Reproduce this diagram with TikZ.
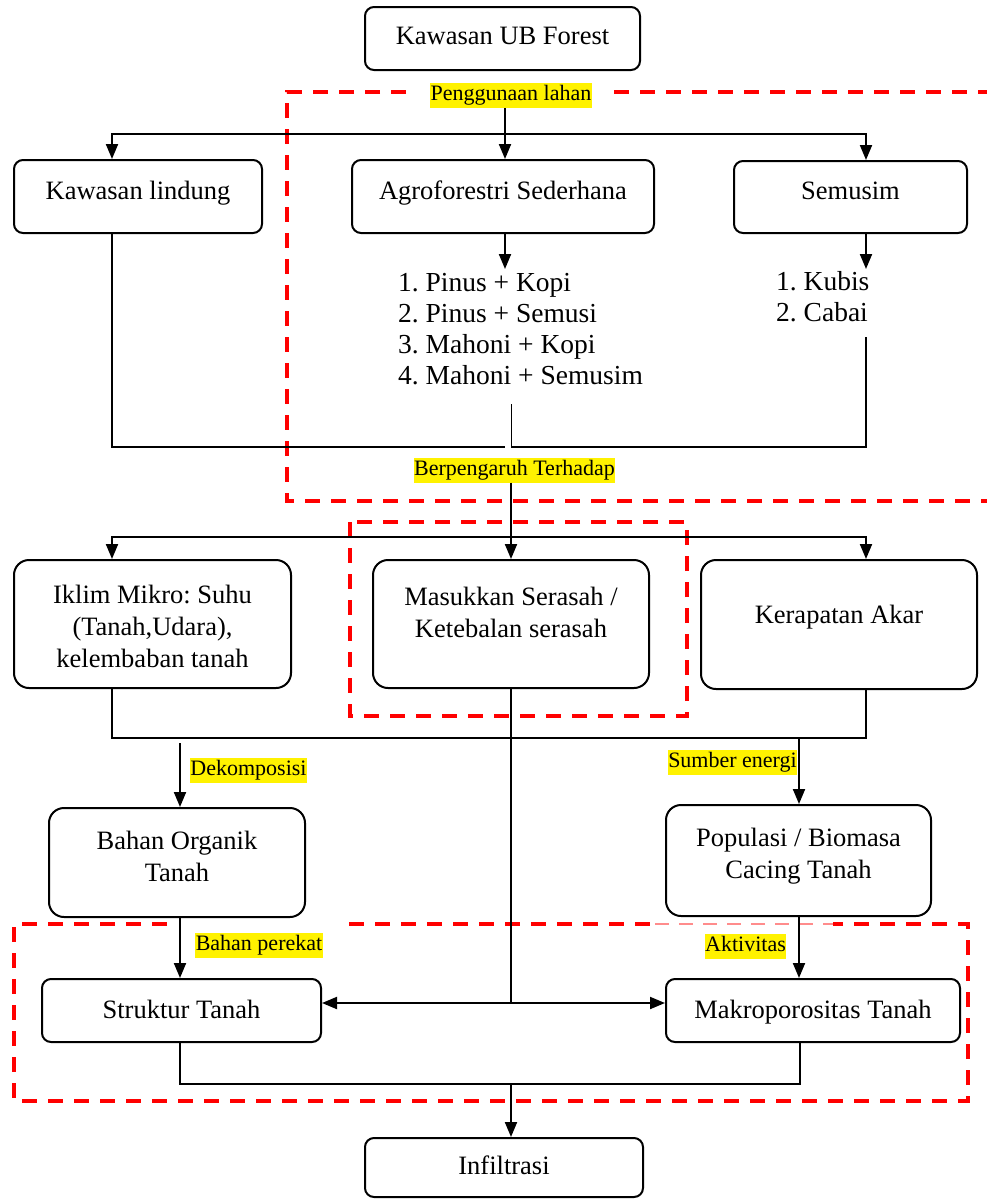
\documentclass[tikz,border=0pt]{standalone}
\usepackage{fontspec}
\setmainfont{Liberation Serif}
\usetikzlibrary{arrows.meta}
\newcommand\boxfont{\fontsize{26.5}{32}\selectfont\frenchspacing}
\newcommand\listfont{\fontsize{27.5}{31}\selectfont\frenchspacing}
\newcommand\labfont{\fontsize{22}{25}\selectfont\frenchspacing}
\begin{document}
\begin{tikzpicture}[x=1pt,y=-1pt,
  box/.style={draw, line width=2pt, rounded corners=9pt, inner sep=0pt},
  bigbox/.style={box, rounded corners=15pt},
  txt/.style={align=center, inner sep=0pt, font=\boxfont},
  lst/.style={align=left, inner sep=0pt, font=\listfont, anchor=west},
  lab/.style={fill=yellow, inner xsep=0.5pt, inner ysep=0pt, font=\labfont},
  conn/.style={line width=2pt},
  thinconn/.style={line width=1pt},
  arr/.style={conn, -{Triangle[length=15pt,width=12pt]}},
  arrboth/.style={conn, {Triangle[length=15pt,width=12pt]}-{Triangle[length=15pt,width=12pt]}},
  redd/.style={draw=red, line width=3.5pt, dash pattern=on 15pt off 11pt},
  pale/.style={draw=red!45, line width=2.5pt, dash pattern=on 14pt off 10pt},
]
\useasboundingbox (0,0) rectangle (987,1200);

% red dashed regions
\draw[redd] (406,92) -- (287,92) -- (287,501) -- (987,501);
\draw[redd] (614,92) -- (987,92);
\draw[redd] (350,522) rectangle (687,716);
\draw[redd] (167,924) -- (14,924) -- (14,1101) -- (968,1101) -- (968,924) -- (833,924);
\draw[redd] (349,924) -- (655,924);
\draw[pale] (655,924) -- (833,924);

% coordinates
\coordinate (xL) at (112,0);
\coordinate (xM) at (505,0);
\coordinate (xC) at (511,0);
\coordinate (xR) at (866,0);
\coordinate (x180) at (180,0);
\coordinate (x799) at (799,0);
\coordinate (x800) at (800,0);
\coordinate (y447) at (0,447);
\coordinate (y738) at (0,738);
\coordinate (y1003) at (0,1003);
\coordinate (y1084) at (0,1084);

% boxes
\node[box, minimum width=275pt, minimum height=63pt] (kub) at (502.5,38.5) {};
\node[txt] (kubT) at (502.5,38) {\strut Kawasan UB Forest};

\node[box, minimum width=248pt, minimum height=73pt] (lind) at (138,196.5) {};
\node[txt] (lindT) at (138,193) {\strut Kawasan lindung};
\node[box, minimum width=302pt, minimum height=73pt] (agro) at (503,196.5) {};
\node[txt] (agroT) at (503,193) {\strut Agroforestri Sederhana};
\node[box, minimum width=233pt, minimum height=72pt] (sem) at (850.5,197) {};
\node[txt] (semT) at (850.5,193) {\strut Semusim};

\node[lst] (agroL) at (398,331.5) {\strut 1. Pinus + Kopi\\2. Pinus + Semusi\\3. Mahoni + Kopi\\4. Mahoni + Semusim\strut};
\node[lst] (semL) at (776,300) {\strut 1. Kubis\\2. Cabai\strut};

\node[bigbox, minimum width=277pt, minimum height=128pt] (ikl) at (152.5,624) {};
\node[txt] (iklT) at (152.5,629.5) {\strut Iklim Mikro: Suhu\\(Tanah,Udara),\\kelembaban tanah\strut};
\node[bigbox, minimum width=276pt, minimum height=128pt] (mas) at (511,624) {};
\node[txt] (masT) at (511,615.5) {\strut Masukkan Serasah /\\Ketebalan serasah\strut};
\node[bigbox, minimum width=276pt, minimum height=129pt] (ker) at (839,624.5) {};
\node[txt] (kerT) at (839,617) {\strut Kerapatan Akar};

\node[bigbox, minimum width=256pt, minimum height=109pt] (bah) at (177,862.5) {};
\node[txt] (bahT) at (177,859) {\strut Bahan Organik\\Tanah\strut};
\node[bigbox, minimum width=265pt, minimum height=111pt] (pop) at (798.5,860.5) {};
\node[txt] (popT) at (798.5,856) {\strut Populasi / Biomasa\\Cacing Tanah\strut};

\node[box, minimum width=279pt, minimum height=63pt] (struk) at (181.5,1010.5) {};
\node[txt] (strukT) at (181.5,1012) {\strut Struktur Tanah};
\node[box, minimum width=294pt, minimum height=63pt] (mak) at (813,1010.5) {};
\node[txt] (makT) at (813,1012) {\strut Makroporositas Tanah};

\node[box, minimum width=278pt, minimum height=59pt] (inf) at (504,1167.5) {};
\node[txt] (infT) at (504,1168) {\strut Infiltrasi};

% labels
\node[lab] (lpg) at (511,95.5) {\strut Penggunaan lahan};
\node[lab] (lbp) at (514.5,470) {\strut Berpengaruh Terhadap};
\node[lab] (ldek) at (248.5,770) {\strut Dekomposisi};
\node[lab] (lsum) at (732.5,762) {\strut Sumber energi};
\node[lab] (lper) at (259,945) {\strut Bahan perekat};
\node[lab] (lakt) at (745.5,946.5) {\strut Aktivitas};

% connectors: top
\coordinate (j1) at (505,134);
\draw[arr] (lpg.south -| xM) -- (agro.north -| xM);
\draw[arr] (j1) -| (lind.north -| xL);
\draw[arr] (j1) -| (sem.north -| xR);
\coordinate (agTip) at (505,269);
\draw[arr] (agro.south -| xM) -- (agTip);
\coordinate (semTip) at (866,269);
\draw[arr] (sem.south -| xR) -- (semTip);

\draw[conn] (lind.south -| xL) -- (xL |- y447) -- (xM |- y447);
\coordinate (semEnd) at (866,337);
\draw[conn] (semEnd) -- (xR |- y447) -- (xC |- y447);
\coordinate (agEnd) at (511,404);
\draw[thinconn] (agEnd) -- (xC |- y447);

% middle
\coordinate (j2) at (511,537);
\draw[arr] (lbp.south -| xC) -- (mas.north);
\draw[arr] (j2) -| (ikl.north -| xL);
\draw[arr] (j2) -| (ker.north -| xR);

\draw[conn] (ikl.south -| xL) -- (xL |- y738) -- (xR |- y738) -- (ker.south -| xR);
\coordinate (dekS) at (180,743);
\draw[arr] (dekS) -- (bah.north -| x180);
\draw[arr] (x799 |- y738) -- (pop.north -| x799);

\draw[conn] (mas.south) -- (xC |- y1003);
\draw[arrboth] (struk.east |- y1003) -- (mak.west |- y1003);

\draw[arr] (bah.south -| x180) -- (struk.north -| x180);
\draw[arr] (pop.south -| x799) -- (mak.north -| x799);

% bottom
\draw[conn] (struk.south -| x180) -- (x180 |- y1084) -- (x800 |- y1084) -- (mak.south -| x800);
\draw[arr] (xC |- y1084) -- (inf.north -| xC);
\end{tikzpicture}
\end{document}
